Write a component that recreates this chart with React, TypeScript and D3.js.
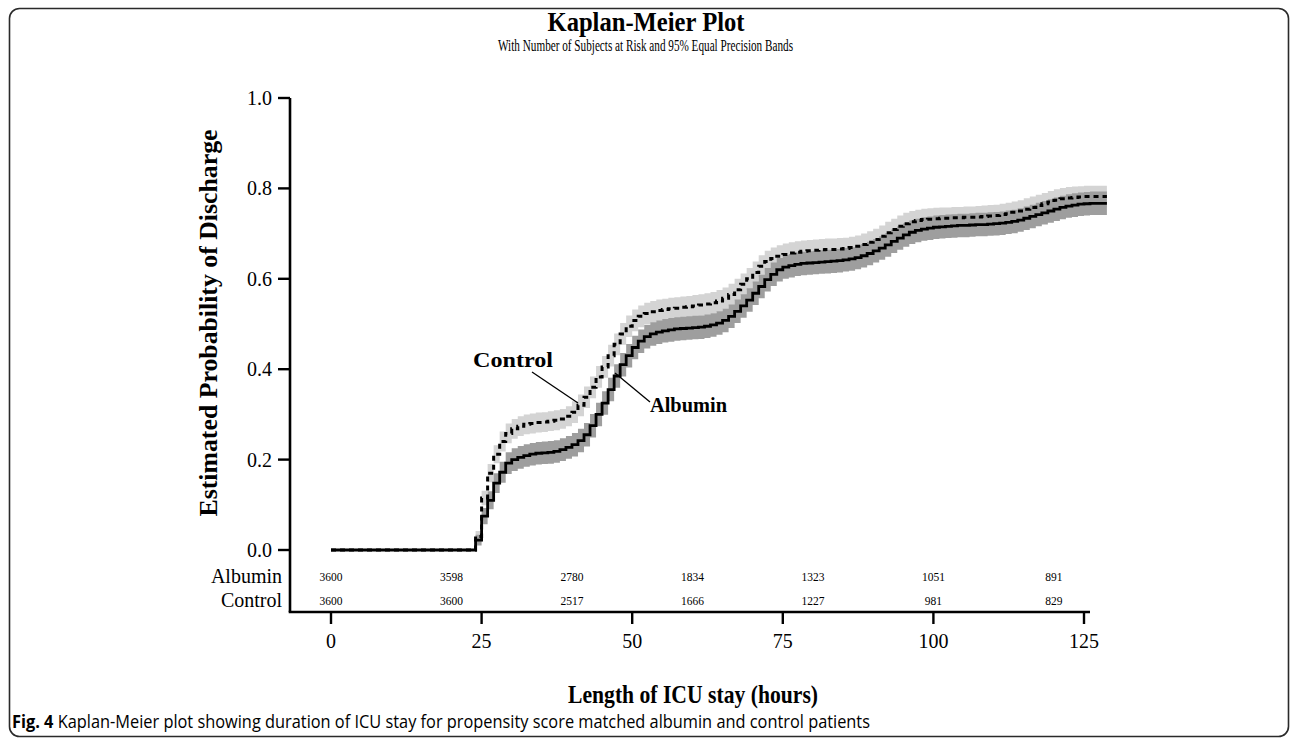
import React from 'react';
import * as d3 from 'd3';

// ---- data ----
const hours = [0,
  24, 25, 26, 27, 28, 29, 30, 31, 32, 33, 34, 35, 36, 37, 38, 39,
  40, 41, 42, 43, 44, 45, 46, 47, 48, 49, 50, 51, 52, 53, 54, 55, 56, 57, 58, 59,
  60, 61, 62, 63, 64, 65, 66, 67, 68, 69, 70, 71, 72, 73, 74, 75, 76, 77, 78, 79,
  80, 81, 82, 83, 84, 85, 86, 87, 88, 89, 90, 91, 92, 93, 94, 95, 96, 97, 98, 99,
  100, 101, 102, 103, 104, 105, 106, 107, 108, 109, 110, 111, 112, 113, 114, 115, 116, 117, 118, 119,
  120, 121, 122, 123, 124, 125, 126, 127, 128];

const albumin = [0,
  0.022, 0.075, 0.11, 0.148, 0.172, 0.192,
  0.2, 0.205, 0.209, 0.212, 0.214, 0.215, 0.216, 0.218, 0.222, 0.227,
  0.233, 0.242, 0.255, 0.275, 0.3, 0.325, 0.355, 0.385, 0.41, 0.43,
  0.448, 0.462, 0.472, 0.478, 0.482, 0.485, 0.487, 0.489, 0.49, 0.491,
  0.492, 0.493, 0.495, 0.498, 0.502, 0.508, 0.517, 0.528, 0.54, 0.553,
  0.568, 0.583, 0.598, 0.61, 0.62, 0.626, 0.629, 0.632, 0.634, 0.635,
  0.636, 0.637, 0.638, 0.639, 0.64, 0.642, 0.644, 0.647, 0.651, 0.656,
  0.662, 0.668, 0.675, 0.683, 0.69, 0.697, 0.703, 0.707, 0.71, 0.712,
  0.714, 0.715, 0.716, 0.717, 0.718, 0.718, 0.719, 0.72, 0.72, 0.721,
  0.722, 0.723, 0.725, 0.727, 0.73, 0.734, 0.738, 0.742, 0.746, 0.75,
  0.754, 0.758, 0.761, 0.763, 0.765, 0.766, 0.767, 0.767,
  0.767];

const control = [0,
  0.03, 0.115, 0.17, 0.212, 0.24, 0.258,
  0.268, 0.274, 0.278, 0.28, 0.282, 0.283, 0.285, 0.287, 0.29, 0.296,
  0.305, 0.32, 0.338, 0.36, 0.383, 0.405, 0.43, 0.455, 0.478, 0.495,
  0.508, 0.517, 0.523, 0.527, 0.53, 0.532, 0.534, 0.535, 0.537, 0.538,
  0.54, 0.542, 0.544, 0.547, 0.551, 0.557, 0.565, 0.576, 0.588, 0.6,
  0.614, 0.628, 0.638, 0.645, 0.65, 0.654, 0.657, 0.659, 0.661, 0.662,
  0.663, 0.664, 0.665, 0.665, 0.666, 0.667, 0.669, 0.672, 0.676, 0.681,
  0.687, 0.694, 0.702, 0.709, 0.716, 0.722, 0.726, 0.729, 0.731, 0.732,
  0.733, 0.734, 0.734, 0.735, 0.735, 0.736, 0.736, 0.737, 0.738, 0.739,
  0.74, 0.742, 0.744, 0.747, 0.75, 0.754, 0.758, 0.762, 0.766, 0.77,
  0.774, 0.777, 0.779, 0.78, 0.781, 0.782, 0.782, 0.782,
  0.782];

// band half-widths (step-held from each listed hour)
const albuminBandHours = [0, 24, 25, 26, 27, 28, 29, 30, 40];
const albuminBandHalf = [0.002, 0.012, 0.018, 0.02, 0.022, 0.023, 0.024, 0.025, 0.026];
const controlBandHours = [0, 24, 25, 26, 28, 40];
const controlBandHalf = [0.002, 0.012, 0.016, 0.02, 0.022, 0.024];

const xTicks = [0, 25, 50, 75, 100, 125];
const yTicks = [0, 0.2, 0.4, 0.6, 0.8, 1.0];
const riskHours = [0, 20, 40, 60, 80, 100, 120];
const albuminRisk = [3600, 3598, 2780, 1834, 1323, 1051, 891];
const controlRisk = [3600, 3600, 2517, 1666, 1227, 981, 829];

const SERIF = '"Liberation Serif", "Times New Roman", Times, serif';
const SANS = '"Open Sans", "Noto Sans", sans-serif';

type Pt = { t: number; v: number; h: number };

function build(vals: number[], bh: number[], bv: number[], end: number): Pt[] {
  const pts = hours.map((t, i) => {
    const j = d3.bisectRight(bh, t) - 1;
    return { t, v: vals[i], h: bv[Math.max(0, j)] };
  });
  const last = pts[pts.length - 1];
  pts.push({ t: end, v: last.v, h: last.h });
  return pts;
}

export default function App() {
  const x = d3.scaleLinear().domain([0, 125]).range([331, 1084]);
  const y = d3.scaleLinear().domain([0, 1]).range([550, 98]);

  const alb = build(albumin, albuminBandHours, albuminBandHalf, 128.8);
  const con = build(control, controlBandHours, controlBandHalf, 128.8);

  const line = d3.line<Pt>().x(d => x(d.t)).y(d => y(d.v)).curve(d3.curveStepAfter);
  const area = d3.area<Pt>()
    .x(d => x(d.t))
    .y0(d => y(Math.max(0, d.v - d.h)))
    .y1(d => y(d.v + d.h))
    .curve(d3.curveStepAfter);

  const axisLeft = 290;
  const axisBottom = 612;
  const axisRight = 1090;

  return (
    <svg width={1290} height={740} style={{ position: 'absolute', left: 0, top: 0, background: '#fff' }}>
      <rect x={9.5} y={8.5} width={1279} height={728} rx={10} ry={10} fill="none" stroke="#2a2a2a" strokeWidth={1.6} />

      {/* titles */}
      <text x={646} y={31} textAnchor="middle" fontFamily={SERIF} fontWeight="bold" fontSize={27}
        textLength={197} lengthAdjust="spacingAndGlyphs">Kaplan-Meier Plot</text>
      <text x={645.5} y={51} textAnchor="middle" fontFamily={SERIF} fontSize={16.5}
        textLength={295} lengthAdjust="spacingAndGlyphs">With Number of Subjects at Risk and 95% Equal Precision Bands</text>

      {/* bands */}
      <path d={area(con) || ''} fill="#d4d4d4" />
      <path d={area(alb) || ''} fill="#9e9e9e" />

      {/* curves */}
      <path d={line(alb) || ''} fill="none" stroke="#000" strokeWidth={2.8} />
      <path d={line(con) || ''} fill="none" stroke="#000" strokeWidth={3} strokeDasharray="5,4" />

      {/* axes */}
      <line x1={axisLeft} y1={y(1)} x2={axisLeft} y2={axisBottom} stroke="#000" strokeWidth={2.6} />
      <line x1={axisLeft - 1.3} y1={axisBottom} x2={axisRight} y2={axisBottom} stroke="#000" strokeWidth={2.6} />
      {yTicks.map(t => (
        <g key={'y' + t}>
          <line x1={278} x2={axisLeft} y1={y(t)} y2={y(t)} stroke="#000" strokeWidth={2.4} />
          <text x={272} y={y(t) + 7} textAnchor="end" fontFamily={SERIF} fontSize={20}>{d3.format('.1f')(t)}</text>
        </g>
      ))}
      {xTicks.map(t => (
        <g key={'x' + t}>
          <line x1={x(t)} x2={x(t)} y1={axisBottom} y2={624} stroke="#000" strokeWidth={2.4} />
          <text x={x(t)} y={648} textAnchor="middle" fontFamily={SERIF} fontSize={20}>{t}</text>
        </g>
      ))}

      {/* number at risk */}
      <text x={282} y={583} textAnchor="end" fontFamily={SERIF} fontSize={20}>Albumin</text>
      <text x={282} y={607} textAnchor="end" fontFamily={SERIF} fontSize={20}>Control</text>
      {riskHours.map((t, i) => (
        <g key={'r' + t}>
          <text x={x(t)} y={581} textAnchor="middle" fontFamily={SERIF} fontSize={11.5}>{albuminRisk[i]}</text>
          <text x={x(t)} y={605} textAnchor="middle" fontFamily={SERIF} fontSize={11.5}>{controlRisk[i]}</text>
        </g>
      ))}

      {/* annotations */}
      <line x1={532} y1={372} x2={578} y2={403} stroke="#000" strokeWidth={1.3} />
      <text x={473} y={367} fontFamily={SERIF} fontWeight="bold" fontSize={22}
        textLength={80} lengthAdjust="spacingAndGlyphs">Control</text>
      <line x1={615} y1={373} x2={650} y2={402} stroke="#000" strokeWidth={1.3} />
      <text x={650} y={412} fontFamily={SERIF} fontWeight="bold" fontSize={22}
        textLength={77} lengthAdjust="spacingAndGlyphs">Albumin</text>

      {/* axis titles */}
      <text transform="translate(217,323) rotate(-90)" textAnchor="middle" fontFamily={SERIF} fontWeight="bold"
        fontSize={26} textLength={387} lengthAdjust="spacingAndGlyphs">Estimated Probability of Discharge</text>
      <text x={693} y={703} textAnchor="middle" fontFamily={SERIF} fontWeight="bold" fontSize={25}
        textLength={250} lengthAdjust="spacingAndGlyphs">Length of ICU stay (hours)</text>

      {/* caption */}
      <text x={12} y={728} fontFamily={SANS} fontSize={18} textLength={858} lengthAdjust="spacingAndGlyphs">
        <tspan fontWeight="bold">Fig. 4</tspan>
        <tspan> Kaplan-Meier plot showing duration of ICU stay for propensity score matched albumin and control patients</tspan>
      </text>
    </svg>
  );
}
